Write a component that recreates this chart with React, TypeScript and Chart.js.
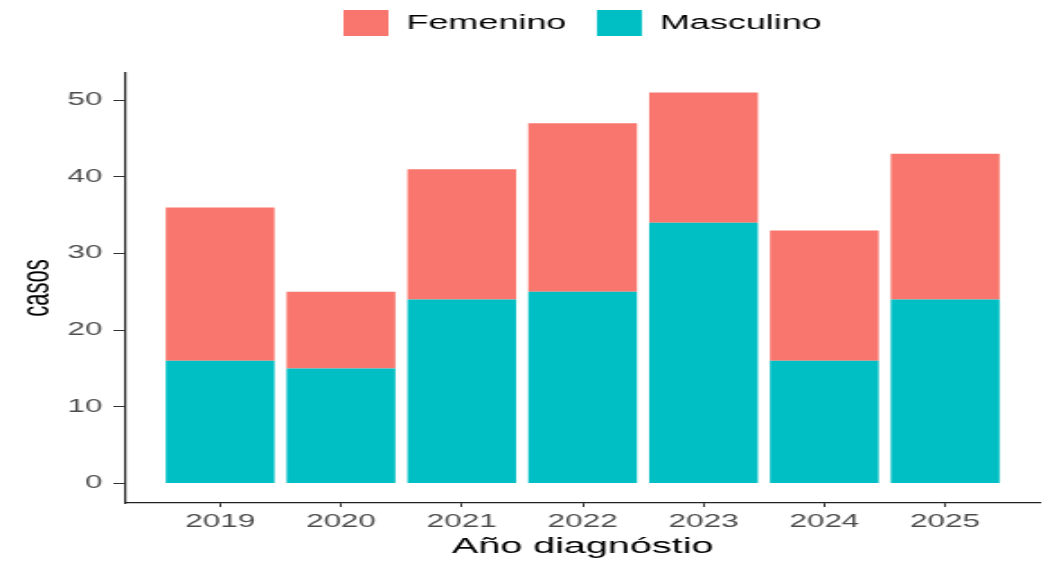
import React, { useEffect, useRef } from "react";
import { Chart, registerables } from "chart.js";

Chart.register(...registerables);

// ---- data ----
const years = ["2019", "2020", "2021", "2022", "2023", "2024", "2025"];
const masculino = [16, 15, 24, 25, 34, 16, 24];
const femenino = [20, 10, 17, 22, 17, 17, 19];
const yTicks = [0, 10, 20, 30, 40, 50];
const seriesLabels = ["Femenino", "Masculino"];
const seriesColors = ["#F8766D", "#00BFC4"];
const xTitle = "Año diagnóstio";
const yTitle = "casos";

// ---- layout ----
const BASE_W = 580;
const BASE_H = 562;
const STRETCH = 1043 / BASE_W;
const FONT = "'Liberation Sans', Arial, Helvetica, sans-serif";

export default function App() {
  const ref = useRef<HTMLCanvasElement>(null);

  useEffect(() => {
    const canvas = ref.current;
    if (!canvas) return;
    document.documentElement.style.overflow = "hidden";

    const legendBand = {
      id: "legendBand",
      beforeLayout(chart: any) {
        const lg = chart.legend;
        if (lg && !lg._bandPatched) {
          const fit = lg.fit.bind(lg);
          lg.fit = () => {
            fit();
            lg.height = 73;
          };
          lg._bandPatched = true;
        }
      },
      afterLayout(chart: any) {
        const lg = chart.legend;
        if (lg) {
          lg.top -= 7;
          lg.bottom -= 7;
        }
      },
    };

    const chart = new Chart(canvas, {
      type: "bar",
      data: {
        datasets: [
          {
            label: seriesLabels[1],
            data: masculino.map((v, i) => ({ x: i, y: v })),
            backgroundColor: seriesColors[1],
            borderWidth: 0,
          },
          {
            label: seriesLabels[0],
            data: femenino.map((v, i) => ({ x: i, y: v })),
            backgroundColor: seriesColors[0],
            borderWidth: 0,
          },
        ],
      },
      options: {
        responsive: true,
        maintainAspectRatio: false,
        animation: false,
        devicePixelRatio: 1,
        layout: { padding: { left: 0, right: 2, top: 0, bottom: 0 } },
        datasets: {
          bar: { categoryPercentage: 0.9, barPercentage: 1 },
        },
        plugins: {
          legend: {
            position: "top",
            fullSize: false,
            reverse: true,
            labels: {
              boxWidth: 25,
              boxHeight: 26,
              padding: 17,
              color: "#000000",
              font: { family: FONT, size: 20 },
            },
          },
          tooltip: { enabled: false },
        },
        scales: {
          x: {
            type: "linear",
            stacked: true,
            offset: false,
            min: -0.78,
            max: 6.78,
            afterBuildTicks: (s: any) => {
              s.ticks = years.map((_, i) => ({ value: i }));
            },
            afterFit: (s: any) => {
              s.height = 59;
            },
            ticks: {
              autoSkip: false,
              maxRotation: 0,
              padding: 4.5,
              color: "#4D4D4D",
              font: { family: FONT, size: 17.5 },
              callback: (v: any) => years[v as number],
            },
            grid: {
              offset: false,
              drawOnChartArea: false,
              drawTicks: true,
              tickLength: 4,
              tickColor: "#333333",
              tickWidth: 1,
            },
            border: { display: true, color: "#222222", width: 1.2 },
            title: {
              display: true,
              text: xTitle,
              color: "#000000",
              font: { family: FONT, size: 22 },
              padding: { top: 2, bottom: 1.4 },
            },
          },
          y: {
            type: "linear",
            stacked: true,
            min: -2.55,
            max: 53.55,
            afterBuildTicks: (s: any) => {
              s.ticks = yTicks.map((v) => ({ value: v }));
            },
            afterFit: (s: any) => {
              s.width = 70;
            },
            ticks: {
              padding: 6,
              color: "#4D4D4D",
              font: { family: FONT, size: 17.5 },
            },
            grid: {
              drawOnChartArea: false,
              drawTicks: true,
              tickLength: 7,
              tickColor: "#333333",
              tickWidth: 1,
            },
            border: { display: true, color: "#222222", width: 1.2 },
            title: {
              display: true,
              text: yTitle,
              color: "#000000",
              font: { family: FONT, size: 22 },
              padding: { top: 8, bottom: 0 },
            },
          },
        },
      },
      plugins: [legendBand],
    } as any);

    return () => chart.destroy();
  }, []);

  return (
    <div
      style={{
        position: "absolute",
        left: 0,
        top: 0,
        width: BASE_W,
        height: BASE_H,
        transform: `scaleX(${STRETCH})`,
        transformOrigin: "0 0",
      }}
    >
      <canvas ref={ref} />
    </div>
  );
}
